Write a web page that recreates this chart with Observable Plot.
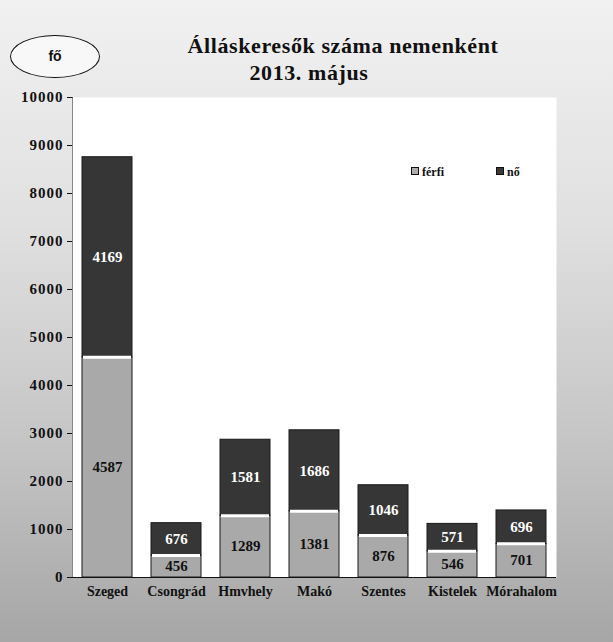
<!DOCTYPE html>
<html>
<head>
<meta charset="utf-8">
<script src="https://cdn.jsdelivr.net/npm/d3@7"></script>
<script src="https://cdn.jsdelivr.net/npm/@observablehq/plot@0.6"></script>
<style>
  html, body { margin: 0; padding: 0; }
  #wrap {
    position: relative; width: 613px; height: 642px; overflow: hidden;
    background: linear-gradient(to bottom, #f1f1f1 0%, #e0e0e0 35%, #c4c4c4 70%, #a6a6a6 100%);
    font-family: "Liberation Serif", serif;
  }
  #chart { position: absolute; left: 0; top: 0; }
  #chart g[aria-label="y-axis tick label"] { font-size: 15px; letter-spacing: 1px; }
  #fo {
    position: absolute; left: 10px; top: 35px; width: 88px; height: 41px;
    border: 1.5px solid #111; border-radius: 50%; background: #f8f8f8;
    font-family: "Liberation Sans", sans-serif; font-weight: bold; font-size: 14px;
    line-height: 41px; text-align: center; color: #111;
  }
  .title {
    position: absolute; text-align: center; width: 400px;
    font-weight: bold; font-size: 22px; line-height: 26px; color: #111; letter-spacing: 0.6px;
  }
  .leg { position: absolute; top: 165px; font-size: 12px; font-weight: bold; color: #111; }
  .sw { display: inline-block; width: 6px; height: 6px; border: 1px solid #111; margin-right: 3px; vertical-align: 1px; }
</style>
</head>
<body>
<div id="wrap">
  <div id="chart"></div>
  <div id="fo">fő</div>
  <div class="title" style="left:143px; top:33px">Álláskeresők száma nemenként</div>
  <div class="title" style="left:109px; top:60px">2013. május</div>
  <div class="leg" style="left:411px"><span class="sw" style="background:#adadad"></span>férfi</div>
  <div class="leg" style="left:496px"><span class="sw" style="background:#3a3a3a"></span>nő</div>
</div>
<script>
const towns = ["Szeged", "Csongrád", "Hmvhely", "Makó", "Szentes", "Kistelek", "Mórahalom"];
const ferfi = [4587, 456, 1289, 1381, 876, 546, 701];
const no = [4169, 676, 1581, 1686, 1046, 571, 696];
const sexes = ["férfi", "nő"];
const yTicks = [0, 1000, 2000, 3000, 4000, 5000, 6000, 7000, 8000, 9000, 10000];

const data = towns.flatMap((t, i) => [
  {town: t, sex: "férfi", value: ferfi[i]},
  {town: t, sex: "nő", value: no[i]}
]);
const maleData = data.filter(d => d.sex === "férfi");

const chart = Plot.plot({
  width: 613,
  height: 642,
  marginTop: 97,
  marginBottom: 65,
  marginLeft: 72,
  marginRight: 57,
  style: {background: "transparent", fontFamily: "'Liberation Serif', serif", fontSize: "14px", fontWeight: "bold", color: "#111"},
  x: {domain: towns, paddingInner: 0.28, paddingOuter: 0.14, label: null, tickSize: 0, tickPadding: 9},
  y: {domain: [0, 10000], ticks: yTicks, label: null, tickSize: 5, tickPadding: 4, line: true, tickFormat: d => String(d)},
  color: {domain: sexes, range: ["#a9a9a9", "#363636"]},
  marks: [
    Plot.frame({fill: "white", stroke: null}),
    Plot.barY(data, Plot.stackY({x: "town", y: "value", z: "sex", fill: "sex", stroke: "#1a1a1a", strokeWidth: 1})),
    Plot.tickY(maleData, {x: "town", y: "value", stroke: "white", strokeWidth: 3, insetLeft: 1, insetRight: 1}),
    Plot.ruleY([0], {stroke: "#111"}),
    Plot.text(data, Plot.stackY({x: "town", y: "value", z: "sex", text: d => d.sex === "nő" ? String(d.value) : "", fill: "white", fontSize: 15, fontWeight: "bold"})),
    Plot.text(data, Plot.stackY({x: "town", y: "value", z: "sex", text: d => d.sex === "férfi" ? String(d.value) : "", fill: "#111", fontSize: 15, fontWeight: "bold"}))
  ]
});
document.getElementById("chart").appendChild(chart);
</script>
</body>
</html>
